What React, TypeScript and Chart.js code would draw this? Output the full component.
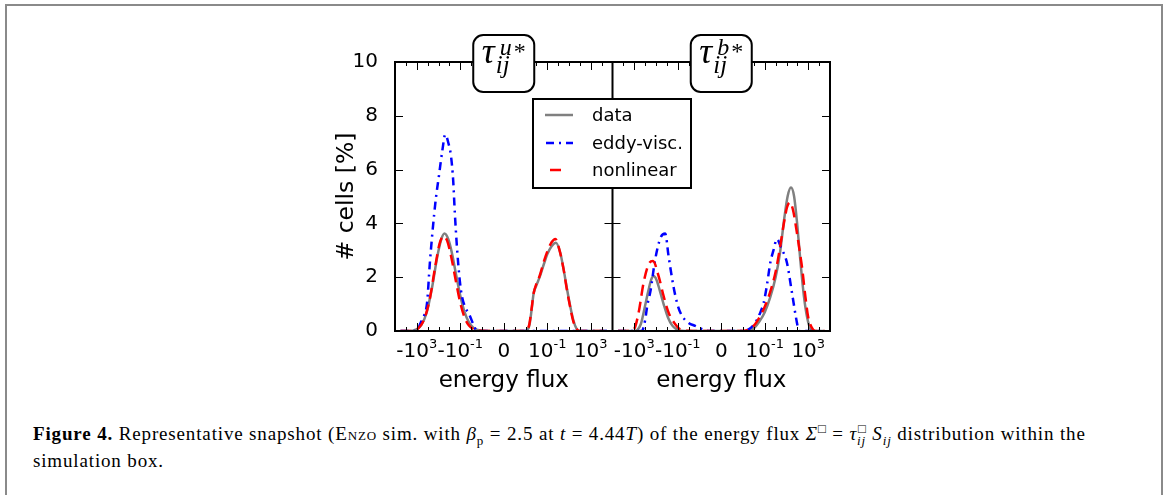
import React, { useEffect, useRef } from "react";
import { Chart, registerables } from "chart.js";

Chart.register(...registerables);

// x positions are in "log-flux units": u = sign(F) * (log10|F| + 5)
const xTickValues = [-8, -4, 0, 4, 8];
const xTickBase = ["-10", "-10", "0", "10", "10"];
const xTickExp = ["3", "-1", "", "-1", "3"];
const panelTags = ["u", "b"];
const seriesNames = ["data", "eddy-visc.", "nonlinear"];
const yTickValues = [0, 2, 4, 6, 8, 10];

// ---- left panel (tau^u*) ----
const uLeftData = [-9.5, -8.6, -8.1, -7.6, -7.1, -6.6, -6.1, -5.75, -5.45, -5.1, -4.8, -4.4, -4.0, -3.6, -3.2, -2.8, -2.4, -1.8, 2.0, 2.35, 2.55, 2.75, 3.0, 3.3, 3.7, 4.0, 4.4, 4.8, 5.2, 5.5, 5.8, 6.1, 6.4, 6.7, 7.0, 9.5];
const vLeftData = [0, 0, 0.05, 0.21, 0.67, 1.6, 2.79, 3.4, 3.62, 3.41, 2.96, 2.13, 1.32, 0.7, 0.32, 0.12, 0.04, 0, 0, 0.2, 0.75, 1.4, 1.7, 2.0, 2.5, 2.85, 3.15, 3.28, 2.9, 2.3, 1.6, 0.95, 0.4, 0.08, 0, 0];

const uLeftEddy = [-9.5, -8.0, -7.65, -7.3, -7.05, -6.8, -6.55, -6.25, -5.95, -5.65, -5.38, -5.1, -4.85, -4.65, -4.5, -4.3, -4.05, -3.85, -3.5, -3.15, -2.8, -2.45, 9.5];
const vLeftEddy = [0, 0, 0.3, 0.6, 1.05, 2.5, 3.7, 4.9, 5.8, 6.7, 7.3, 7.0, 6.5, 5.6, 4.4, 3.1, 1.9, 1.3, 0.85, 0.6, 0.25, 0, 0];

const uLeftNonlin = [-9.5, -8.3, -7.8, -7.3, -6.8, -6.3, -5.9, -5.55, -5.2, -4.8, -4.4, -4.0, -3.6, -3.2, -2.8, -2.4, -1.9, -1.2, 2.0, 2.35, 2.55, 2.75, 3.0, 3.3, 3.7, 4.0, 4.4, 4.75, 5.1, 5.5, 5.8, 6.1, 6.4, 6.7, 7.0, 9.5];
const vLeftNonlin = [0, 0, 0.12, 0.45, 1.2, 2.4, 3.25, 3.52, 3.35, 2.7, 1.85, 1.05, 0.5, 0.2, 0.07, 0.03, 0.01, 0, 0, 0.25, 0.8, 1.4, 1.75, 2.05, 2.6, 2.95, 3.3, 3.42, 3.05, 2.3, 1.55, 0.9, 0.35, 0.08, 0, 0];

// ---- right panel (tau^b*) ----
const uRightData = [-9.5, -8.0, -7.75, -7.4, -7.0, -6.7, -6.45, -6.22, -5.95, -5.65, -5.3, -4.9, -4.5, -4.1, -3.7, -3.0, 2.3, 2.7, 3.0, 3.5, 4.0, 4.5, 5.0, 5.4, 5.8, 6.1, 6.41, 6.7, 7.0, 7.3, 7.6, 7.9, 8.2, 8.5, 9.5];
const vRightData = [0, 0, 0.03, 0.25, 0.95, 1.5, 1.9, 2.04, 1.9, 1.5, 1.0, 0.5, 0.2, 0.06, 0.01, 0, 0, 0.04, 0.1, 0.35, 0.7, 1.25, 2.0, 2.9, 4.2, 5.0, 5.33, 5.0, 3.9, 2.5, 1.3, 0.5, 0.08, 0, 0];

const uRightEddy = [-9.5, -7.3, -7.0, -6.8, -6.5, -6.1, -5.6, -5.15, -4.85, -4.4, -4.0, -3.6, -3.0, -2.4, -1.8, -1.1, 2.0, 2.6, 3.13, 3.5, 3.9, 4.2, 4.51, 4.8, 5.12, 5.5, 6.04, 6.5, 6.96, 7.15, 9.5];
const vRightEddy = [0, 0, 0.4, 0.95, 1.5, 2.6, 3.45, 3.62, 2.8, 1.67, 0.95, 0.56, 0.3, 0.19, 0.08, 0, 0, 0.08, 0.31, 0.6, 1.05, 1.7, 2.54, 3.0, 3.42, 3.1, 2.54, 1.43, 0.31, 0, 0];

const uRightNonlin = [-9.5, -8.4, -8.0, -7.6, -7.14, -6.68, -6.28, -5.76, -5.3, -4.84, -4.23, -3.77, -3.0, -2.0, 1.8, 2.5, 3.0, 3.5, 4.0, 4.5, 5.0, 5.4, 5.8, 6.05, 6.3, 6.6, 6.9, 7.2, 7.45, 7.7, 8.0, 8.3, 8.65, 9.5];
const vRightNonlin = [0, 0, 0.08, 0.68, 1.8, 2.48, 2.6, 2.04, 1.3, 0.68, 0.25, 0.06, 0.01, 0, 0, 0.05, 0.2, 0.5, 0.9, 1.45, 2.2, 3.1, 4.1, 4.6, 4.78, 4.5, 3.8, 3.0, 2.3, 1.4, 0.5, 0.15, 0, 0];

const PANEL_OFFSET = 20; // right panel drawn at u + 20 on the shared scale

const styles = [
  { color: "#808080", dash: [] as number[], order: 3 },
  { color: "#0000ff", dash: [8, 5, 2, 5], order: 2 },
  { color: "#ff0000", dash: [11, 6], order: 1 },
];

const pts = (xs: number[], ys: number[], off: number) => xs.map((u, i) => ({ x: u + off, y: ys[i] }));

const decorPlugin = {
  id: "decor",
  afterDatasetsDraw(chart: any) {
    const { ctx, chartArea: a, scales } = chart;
    const x = scales.x;
    const y = scales.y;
    const div = x.getPixelForValue(10);
    const line = (x1: number, y1: number, x2: number, y2: number) => {
      ctx.beginPath();
      ctx.moveTo(x1, y1);
      ctx.lineTo(x2, y2);
      ctx.stroke();
    };
    ctx.save();
    ctx.strokeStyle = "#000";
    ctx.lineWidth = 1;
    for (let p = 0; p < 2; p++) {
      for (let u = -9; u <= 9; u++) {
        const px = Math.round(x.getPixelForValue(u + p * PANEL_OFFSET)) + 0.5;
        const len = xTickValues.includes(u) ? 8 : 4;
        line(px, a.bottom, px, a.bottom - len);
        line(px, a.top, px, a.top + len);
      }
    }
    for (const v of yTickValues) {
      if (v === 0 || v === 10) continue;
      const py = Math.round(y.getPixelForValue(v)) + 0.5;
      line(a.left, py, a.left + 8, py);
      line(div - 8, py, div + 8, py);
      line(a.right - 8, py, a.right, py);
    }
    ctx.lineWidth = 2;
    ctx.strokeRect(a.left, a.top, a.right - a.left, a.bottom - a.top);
    line(div, a.top, div, a.bottom);
    ctx.restore();
  },
  afterDraw(chart: any) {
    const { ctx, chartArea: a, scales } = chart;
    const x = scales.x;
    ctx.save();
    ctx.fillStyle = "#000";
    ctx.strokeStyle = "#000";

    // x tick labels with superscript exponents
    ctx.textAlign = "left";
    ctx.textBaseline = "alphabetic";
    for (let p = 0; p < 2; p++) {
      xTickValues.forEach((v, i) => {
        const px = x.getPixelForValue(v + p * PANEL_OFFSET);
        ctx.font = '20px "DejaVu Sans"';
        const wb = ctx.measureText(xTickBase[i]).width;
        ctx.font = '13px "DejaVu Sans"';
        const we = xTickExp[i] ? ctx.measureText(xTickExp[i]).width : 0;
        const x0 = px - (wb + we) / 2;
        ctx.font = '20px "DejaVu Sans"';
        ctx.fillText(xTickBase[i], x0, 357);
        if (xTickExp[i]) {
          ctx.font = '13px "DejaVu Sans"';
          ctx.fillText(xTickExp[i], x0 + wb, 348);
        }
      });
    }

    // axis labels
    ctx.font = '23px "DejaVu Sans"';
    ctx.textAlign = "center";
    ctx.textBaseline = "alphabetic";
    for (let p = 0; p < 2; p++) {
      const cx = x.getPixelForValue(p * PANEL_OFFSET);
      ctx.fillText("energy flux", cx, 387);
    }
    ctx.save();
    ctx.font = '23.5px "DejaVu Sans"';
    ctx.translate(347, (a.top + a.bottom) / 2);
    ctx.rotate(-Math.PI / 2);
    ctx.textBaseline = "middle";
    ctx.fillText("# cells [%]", 0, 0);
    ctx.restore();

    // panel title boxes
    for (let p = 0; p < 2; p++) {
      const cx = x.getPixelForValue(p * PANEL_OFFSET);
      const bw = 61, bh = 57;
      ctx.beginPath();
      ctx.roundRect(cx - bw / 2, 35, bw, bh, 10);
      ctx.fillStyle = "#fff";
      ctx.fill();
      ctx.lineWidth = 2;
      ctx.strokeStyle = "#000";
      ctx.stroke();
      ctx.fillStyle = "#000";
      ctx.textAlign = "left";
      ctx.textBaseline = "alphabetic";
      ctx.font = 'italic 36px "Liberation Serif"';
      ctx.fillText("τ", cx - 22, 63);
      ctx.font = 'italic 25px "Liberation Serif"';
      ctx.fillText("ij", cx - 8, 73);
      ctx.font = 'italic 24px "Liberation Serif"';
      ctx.fillText(panelTags[p], cx - 4, 55);
      ctx.font = '24px "Liberation Serif"';
      ctx.fillText("*", cx + 10, 59);
    }

    // legend
    const lx = 533, ly = 99, lw = 158, lh = 89;
    ctx.fillStyle = "#fff";
    ctx.fillRect(lx, ly, lw, lh);
    ctx.lineWidth = 2;
    ctx.strokeStyle = "#000";
    ctx.strokeRect(lx, ly, lw, lh);
    const rows = [115, 143, 170];
    const sampleX = [
      [545, 573],
      [546, 573],
      [550, 561],
    ];
    ctx.font = '18px "DejaVu Sans"';
    ctx.textBaseline = "middle";
    ctx.textAlign = "left";
    for (let i = 0; i < 3; i++) {
      ctx.save();
      ctx.strokeStyle = styles[i].color;
      ctx.lineWidth = 2.5;
      ctx.setLineDash(i === 2 ? [] : styles[i].dash);
      ctx.beginPath();
      ctx.moveTo(sampleX[i][0], rows[i]);
      ctx.lineTo(sampleX[i][1], rows[i]);
      ctx.stroke();
      ctx.restore();
      ctx.fillStyle = "#000";
      ctx.fillText(seriesNames[i], 592, rows[i] + 1);
    }
    ctx.restore();
  },
};

export default function App() {
  const ref = useRef<HTMLCanvasElement>(null);
  useEffect(() => {
    if (!ref.current) return;
    Chart.defaults.color = "#000";
    const series = [
      [uLeftData, vLeftData, uLeftEddy, vLeftEddy, uLeftNonlin, vLeftNonlin],
      [uRightData, vRightData, uRightEddy, vRightEddy, uRightNonlin, vRightNonlin],
    ];
    const datasets: any[] = [];
    series.forEach((s, p) => {
      for (let i = 0; i < 3; i++) {
        datasets.push({
          label: seriesNames[i],
          data: pts(s[2 * i], s[2 * i + 1], p * PANEL_OFFSET),
          borderColor: styles[i].color,
          borderDash: styles[i].dash,
          borderWidth: 2.5,
          pointRadius: 0,
          fill: false,
          cubicInterpolationMode: "monotone",
          order: styles[i].order,
        });
      }
    });
    const chart = new Chart(ref.current, {
      type: "line",
      data: { datasets },
      options: {
        responsive: false,
        animation: false,
        devicePixelRatio: 1,
        layout: { padding: { left: 335, right: 338, top: 62, bottom: 9 } },
        plugins: { legend: { display: false }, tooltip: { enabled: false }, title: { display: false } },
        scales: {
          x: {
            type: "linear",
            min: -10,
            max: 30,
            grid: { display: false },
            border: { display: false },
            afterBuildTicks: (scale: any) => {
              const t: any[] = [];
              for (let p = 0; p < 2; p++) xTickValues.forEach((v) => t.push({ value: v + p * PANEL_OFFSET }));
              scale.ticks = t;
            },
            afterFit: (scale: any) => {
              scale.height = 60;
            },
            ticks: { display: false },
          },
          y: {
            type: "linear",
            min: 0,
            max: 10,
            grid: { display: false },
            border: { display: false },
            afterBuildTicks: (scale: any) => {
              scale.ticks = yTickValues.map((v) => ({ value: v }));
            },
            afterFit: (scale: any) => {
              scale.width = 60;
            },
            ticks: {
              padding: 9,
              color: "#000",
              font: { family: "DejaVu Sans", size: 20 },
            },
          },
        },
      },
      plugins: [decorPlugin],
    } as any);
    return () => chart.destroy();
  }, []);

  const small = { fontSize: 13, lineHeight: 0 } as React.CSSProperties;

  return (
    <div style={{ position: "absolute", left: 0, top: 0, width: 1168, height: 495, overflow: "hidden", background: "#fff" }}>
      <div
        style={{
          position: "absolute",
          left: 5,
          top: 4,
          width: 1158,
          height: 600,
          border: "2px solid #8a8a8a",
          boxSizing: "border-box",
        }}
      />
      <canvas ref={ref} width={1168} height={400} style={{ position: "absolute", left: 0, top: 0, width: 1168, height: 400 }} />
      <div
        style={{
          position: "absolute",
          left: 33,
          top: 420,
          width: 1125,
          fontFamily: '"Liberation Serif", serif',
          fontSize: 19,
          letterSpacing: "0.85px",
          lineHeight: "27px",
          color: "#000",
          whiteSpace: "nowrap",
        }}
      >
        <b>Figure 4.</b> Representative snapshot (<span style={{ fontVariant: "small-caps" }}>Enzo</span> sim. with{" "}
        <i>β</i>
        <sub style={small}>p</sub> = 2.5 at <i>t</i> = 4.44<i>T</i>) of the energy flux <i>Σ</i>
        <sup style={small}>□</sup> = <i>τ</i>
        <sub style={small}>
          <i>ij</i>
        </sub>
        <sup style={{ ...small, marginLeft: -8 }}>□</sup> <i>S</i>
        <sub style={small}>
          <i>ij</i>
        </sub>{" "}
        distribution within the
        <br />
        simulation box.
      </div>
    </div>
  );
}
